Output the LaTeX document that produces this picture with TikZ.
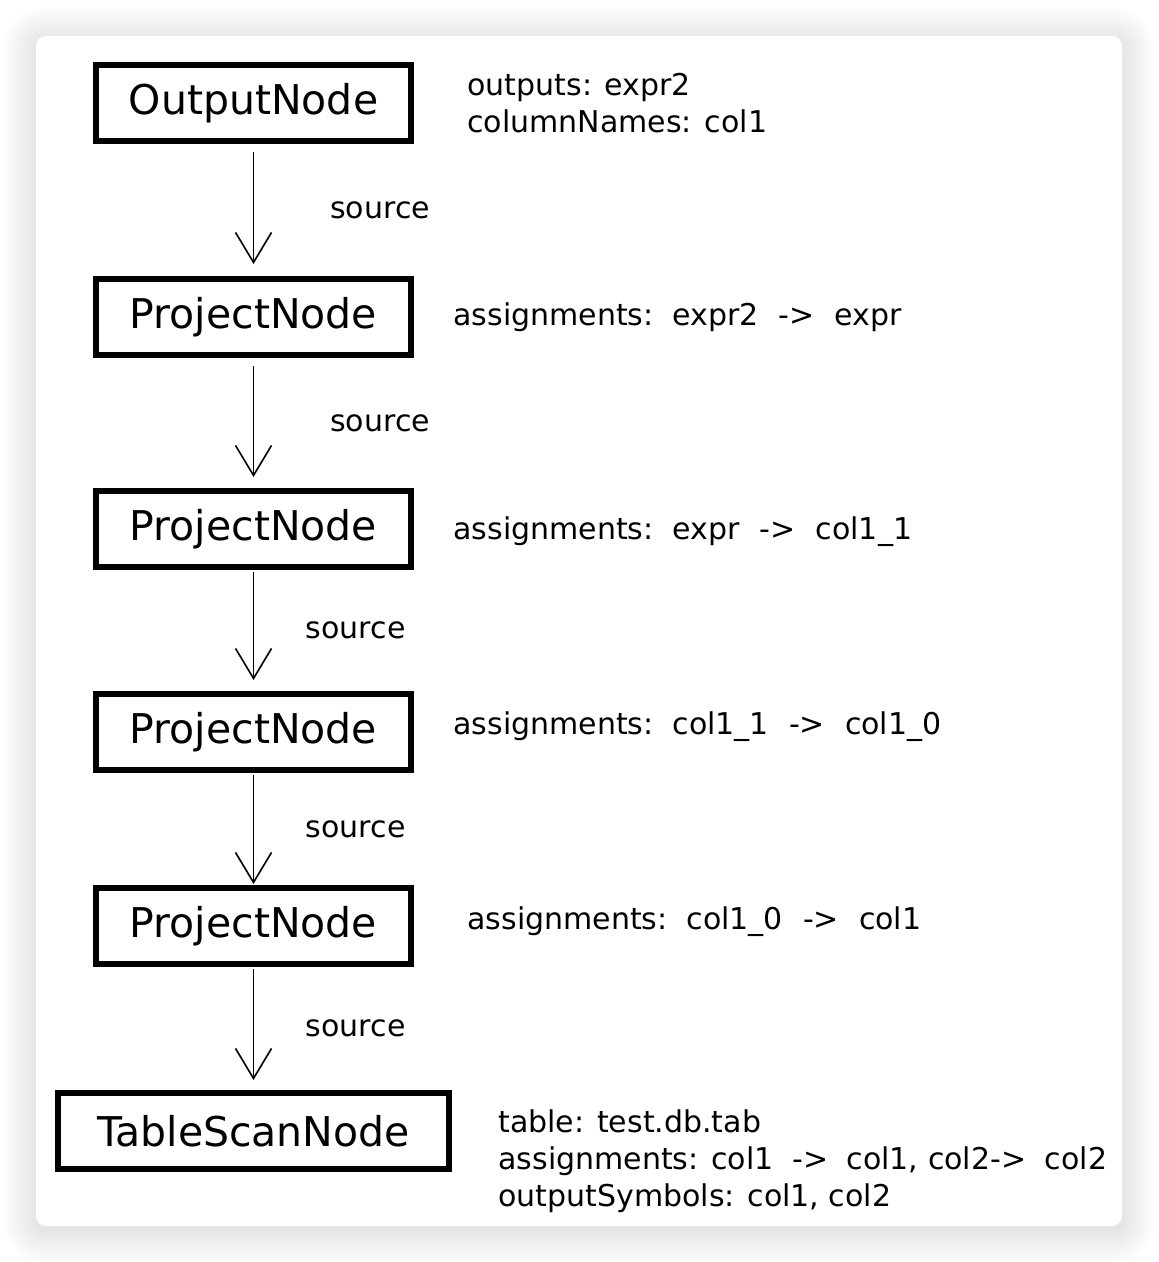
\documentclass[tikz,border=0pt]{standalone}
\usepackage{fontspec}
\setmainfont{DejaVu Sans}
\usetikzlibrary{arrows.meta,positioning}

\tikzset{
  plannode/.style={draw, line width=3pt, minimum height=38pt, inner sep=0pt,
    font=\fontsize{20.5}{24}\selectfont},
  flow/.style={-{Straight Barb[length=15pt,width=18pt]}, line width=0.8pt},
  edgelabel/.style={inner sep=0pt, font=\fontsize{15}{18}\selectfont},
  attrs/.style={anchor=base west, inner sep=0pt, align=left,
    font=\fontsize{15}{18.5}\selectfont},
}
\newcommand{\arr}{\hspace{10pt}->\hspace{10pt}}

\begin{document}
\begin{tikzpicture}[x=0.5pt,y=-0.5pt]
    \useasboundingbox (0,0) rectangle (1158,1262);

    % card with soft shadow
    \foreach \i in {1,...,26}
        \fill[black,opacity=0.005,rounded corners=0.7*\i pt+4pt]
            (36-1.3*\i,36+6-1.4*\i) rectangle (1122+1.3*\i,1226+4+1.3*\i);
    \fill[white,rounded corners=5pt] (36,36) rectangle (1122,1226);

    % plan nodes
    \node[plannode, minimum width=157.5pt] (output) at (253.5,103) {OutputNode};
    \node[plannode, minimum width=157.5pt] (proj1) at (253.5,317) {ProjectNode};
    \node[plannode, minimum width=157.5pt] (proj2) at (253.5,529) {ProjectNode};
    \node[plannode, minimum width=157.5pt] (proj3) at (253.5,732) {ProjectNode};
    \node[plannode, minimum width=157.5pt] (proj4) at (253.5,926) {ProjectNode};
    \node[plannode, minimum width=195.5pt] (scan) at (253.5,1131) {TableScanNode};

    % source edges
    \draw[flow, shorten <=4pt, shorten >=6pt] (output) -- node[edgelabel, right=38pt] {source} (proj1);
    \draw[flow, shorten <=4pt, shorten >=5.5pt] (proj1) -- node[edgelabel, right=38pt] {source} (proj2);
    \draw[flow, shorten <=1pt, shorten >=5.5pt] (proj2) -- node[edgelabel, right=25.75pt] {source} (proj3);
    \draw[flow, shorten <=1pt, shorten >=0.5pt] (proj3) -- node[edgelabel, right=25.75pt] {source} (proj4);
    \draw[flow, shorten <=1pt, shorten >=5pt] (proj4) -- node[edgelabel, right=25.75pt] {source} (scan);

    % node attributes
    \node[attrs, anchor=west] (outputinfo) at (467,103.5) {outputs: expr2\\columnNames: col1};
    \node[attrs] (proj1info) at (453,326) {assignments:\ \ expr2\arr expr};
    \node[attrs] (proj2info) at (453,539) {assignments:\ \ expr\arr col1\_1};
    \node[attrs] (proj3info) at (453,734) {assignments:\ \ col1\_1\arr col1\_0};
    \node[attrs] (proj4info) at (467,929) {assignments:\ \ col1\_0\arr col1};
    \node[attrs, anchor=west] (scaninfo) at (498,1161)
        {table: test.db.tab\\assignments: col1\hspace{4.5pt} ->\hspace{4.5pt} col1, col2->\hspace{4.5pt} col2\\outputSymbols: col1, col2};
\end{tikzpicture}
\end{document}
